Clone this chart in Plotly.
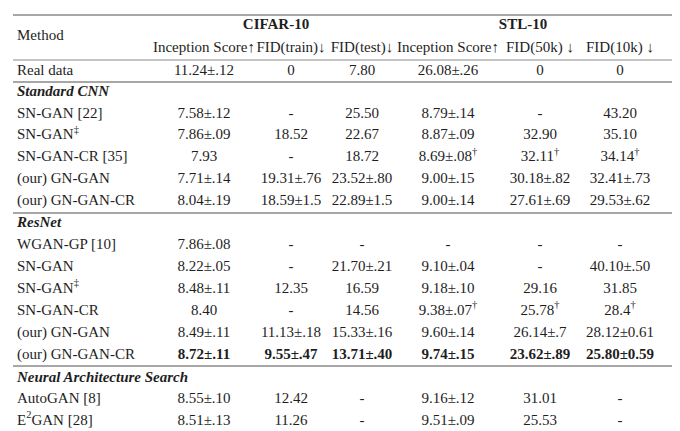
import plotly.graph_objects as go

methods = ["Real data", "<b><i>Standard CNN</i></b>", "SN-GAN [22]", "SN-GAN<sup>‡</sup>", "SN-GAN-CR [35]",
           "(our) GN-GAN", "(our) GN-GAN-CR", "<b><i>ResNet</i></b>", "WGAN-GP [10]", "SN-GAN",
           "SN-GAN<sup>‡</sup>", "SN-GAN-CR", "(our) GN-GAN", "(our) GN-GAN-CR",
           "<b><i>Neural Architecture Search</i></b>", "AutoGAN [8]", "E<sup>2</sup>GAN [28]"]
cifar_is = ["11.24±.12", "", "7.58±.12", "7.86±.09", "7.93", "7.71±.14", "8.04±.19", "", "7.86±.08",
            "8.22±.05", "8.48±.11", "8.40", "8.49±.11", "<b>8.72±.11</b>", "", "8.55±.10", "8.51±.13"]
cifar_fid_train = ["0", "", "-", "18.52", "-", "19.31±.76", "18.59±1.5", "", "-", "-", "12.35", "-",
                   "11.13±.18", "<b>9.55±.47</b>", "", "12.42", "11.26"]
cifar_fid_test = ["7.80", "", "25.50", "22.67", "18.72", "23.52±.80", "22.89±1.5", "", "-", "21.70±.21",
                  "16.59", "14.56", "15.33±.16", "<b>13.71±.40</b>", "", "-", "-"]
stl_is = ["26.08±.26", "", "8.79±.14", "8.87±.09", "8.69±.08<sup>†</sup>", "9.00±.15", "9.00±.14", "",
          "-", "9.10±.04", "9.18±.10", "9.38±.07<sup>†</sup>", "9.60±.14", "<b>9.74±.15</b>", "",
          "9.16±.12", "9.51±.09"]
stl_fid50k = ["0", "", "-", "32.90", "32.11<sup>†</sup>", "30.18±.82", "27.61±.69", "", "-", "-", "29.16",
              "25.78<sup>†</sup>", "26.14±.7", "<b>23.62±.89</b>", "", "31.01", "25.53"]
stl_fid10k = ["0", "", "43.20", "35.10", "34.14<sup>†</sup>", "32.41±.73", "29.53±.62", "", "-",
              "40.10±.50", "31.85", "28.4<sup>†</sup>", "28.12±0.61", "<b>25.80±0.59</b>", "", "-", "-"]
sub_headers = ["Inception Score↑", "FID(train)↓", "FID(test)↓", "Inception Score↑", "FID(50k) ↓", "FID(10k) ↓"]
groups = ["CIFAR-10", "STL-10"]

cols = [cifar_is, cifar_fid_train, cifar_fid_test, stl_is, stl_fid50k, stl_fid10k]
col_x = [196, 283, 354, 440, 532, 612]
font = dict(family="Liberation Serif", size=15, color="#1e1e1e")

def row_y(i):
    if i == 0:
        return 63
    if i <= 6:
        return 84 + (i - 1) * 21.8
    if i <= 13:
        return 215 + (i - 7) * 22
    return 370 + (i - 14) * 21.5

ys = [row_y(i) for i in range(len(methods))]

fig = go.Figure()
fig.add_trace(go.Scatter(x=[9] * len(methods), y=ys, text=methods, mode="text",
                         textposition="middle right", textfont=font, hoverinfo="skip"))
for c, x in zip(cols, col_x):
    fig.add_trace(go.Scatter(x=[x] * len(c), y=ys, text=c, mode="text",
                             textposition="middle center", textfont=font, hoverinfo="skip"))
fig.add_trace(go.Scatter(x=col_x, y=[40] * 6, text=sub_headers, mode="text",
                         textposition="middle center", textfont=font, hoverinfo="skip"))
fig.add_trace(go.Scatter(x=[268, 515], y=[17, 17], text=["<b>" + g + "</b>" for g in groups], mode="text",
                         textposition="middle center", textfont=font, hoverinfo="skip"))
fig.add_trace(go.Scatter(x=[9], y=[28], text=["Method"], mode="text",
                         textposition="middle right", textfont=font, hoverinfo="skip"))

for y, w in [(7, 1.6), (52, 1), (74, 1.6), (205, 1.6), (358, 1.6), (426, 1.6)]:
    fig.add_shape(type="line", x0=5, x1=675, y0=y, y1=y, line=dict(color="#8a8a8a", width=w))

fig.update_layout(width=680, height=431, margin=dict(l=0, r=0, t=0, b=0),
                  paper_bgcolor="white", plot_bgcolor="white", showlegend=False,
                  xaxis=dict(range=[0, 680], visible=False, fixedrange=True),
                  yaxis=dict(range=[431, 0], visible=False, fixedrange=True))
fig.write_html("out.html")
